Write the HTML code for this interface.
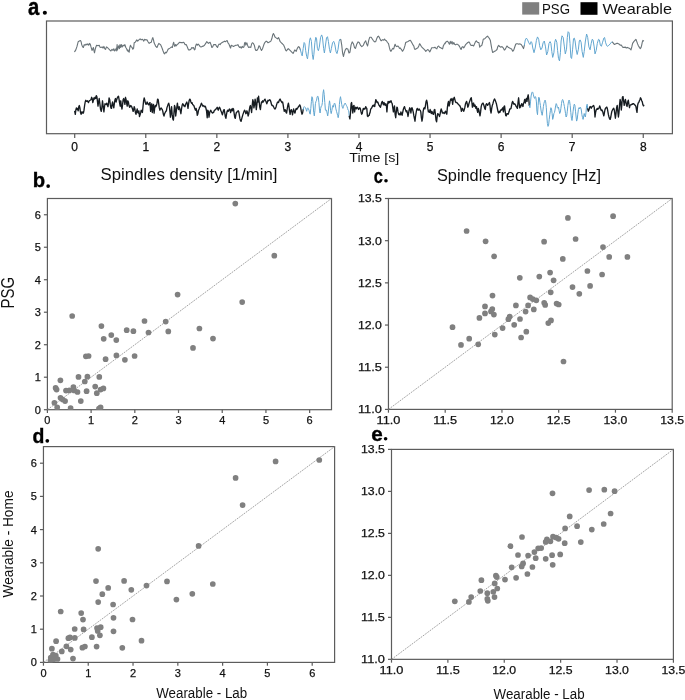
<!DOCTYPE html>
<html><head><meta charset="utf-8"><style>
html,body{margin:0;padding:0;background:#fff;width:685px;height:700px;overflow:hidden}
svg{display:block;font-family:'Liberation Sans', sans-serif;will-change:transform}
</style></head><body>
<svg width="685" height="700" viewBox="0 0 685 700">
<rect x="46.50" y="21.00" width="625.90" height="112.70" fill="none" stroke="#5c5c5c" stroke-width="1.2"/>
<line x1="74.70" y1="133.70" x2="74.70" y2="137.90" stroke="#5c5c5c" stroke-width="1.2"/>
<text x="74.70" y="150.60" font-size="12" text-anchor="middle" font-weight="normal" fill="#111" stroke="#111" stroke-width="0.25">0</text>
<line x1="145.77" y1="133.70" x2="145.77" y2="137.90" stroke="#5c5c5c" stroke-width="1.2"/>
<text x="145.77" y="150.60" font-size="12" text-anchor="middle" font-weight="normal" fill="#111" stroke="#111" stroke-width="0.25">1</text>
<line x1="216.84" y1="133.70" x2="216.84" y2="137.90" stroke="#5c5c5c" stroke-width="1.2"/>
<text x="216.84" y="150.60" font-size="12" text-anchor="middle" font-weight="normal" fill="#111" stroke="#111" stroke-width="0.25">2</text>
<line x1="287.91" y1="133.70" x2="287.91" y2="137.90" stroke="#5c5c5c" stroke-width="1.2"/>
<text x="287.91" y="150.60" font-size="12" text-anchor="middle" font-weight="normal" fill="#111" stroke="#111" stroke-width="0.25">3</text>
<line x1="358.98" y1="133.70" x2="358.98" y2="137.90" stroke="#5c5c5c" stroke-width="1.2"/>
<text x="358.98" y="150.60" font-size="12" text-anchor="middle" font-weight="normal" fill="#111" stroke="#111" stroke-width="0.25">4</text>
<line x1="430.05" y1="133.70" x2="430.05" y2="137.90" stroke="#5c5c5c" stroke-width="1.2"/>
<text x="430.05" y="150.60" font-size="12" text-anchor="middle" font-weight="normal" fill="#111" stroke="#111" stroke-width="0.25">5</text>
<line x1="501.12" y1="133.70" x2="501.12" y2="137.90" stroke="#5c5c5c" stroke-width="1.2"/>
<text x="501.12" y="150.60" font-size="12" text-anchor="middle" font-weight="normal" fill="#111" stroke="#111" stroke-width="0.25">6</text>
<line x1="572.19" y1="133.70" x2="572.19" y2="137.90" stroke="#5c5c5c" stroke-width="1.2"/>
<text x="572.19" y="150.60" font-size="12" text-anchor="middle" font-weight="normal" fill="#111" stroke="#111" stroke-width="0.25">7</text>
<line x1="643.26" y1="133.70" x2="643.26" y2="137.90" stroke="#5c5c5c" stroke-width="1.2"/>
<text x="643.26" y="150.60" font-size="12" text-anchor="middle" font-weight="normal" fill="#111" stroke="#111" stroke-width="0.25">8</text>
<text x="349.30" y="162.10" font-size="13.6" text-anchor="start" font-weight="normal" fill="#111" textLength="50" lengthAdjust="spacingAndGlyphs" >Time [s]</text>
<text font-size="20.0" font-weight="bold" fill="#000" stroke="#000" stroke-width="0.35" transform="matrix(1.0127,0,0,1.1956,27.91,14.67)">a</text>
<circle cx="44.85" cy="12.7" r="2.05" fill="#000"/>
<rect x="522.2" y="2.2" width="17" height="12.4" fill="#808080"/>
<text x="542.00" y="13.50" font-size="14.5" text-anchor="start" font-weight="normal" fill="#111" textLength="28" lengthAdjust="spacingAndGlyphs" >PSG</text>
<rect x="580.5" y="2.2" width="17" height="12.6" fill="#000"/>
<text x="602.50" y="13.60" font-size="15" text-anchor="start" font-weight="normal" fill="#111" textLength="69.5" lengthAdjust="spacingAndGlyphs" >Wearable</text>
<rect x="47.40" y="198.50" width="284.10" height="211.20" fill="none" stroke="#5c5c5c" stroke-width="1.2"/>
<line x1="47.40" y1="409.70" x2="47.40" y2="413.00" stroke="#5c5c5c" stroke-width="1.2"/>
<text x="47.40" y="424.20" font-size="11" text-anchor="middle" font-weight="normal" fill="#111" stroke="#111" stroke-width="0.25">0</text>
<line x1="43.90" y1="409.70" x2="47.40" y2="409.70" stroke="#5c5c5c" stroke-width="1.2"/>
<text x="40.80" y="413.60" font-size="11" text-anchor="end" font-weight="normal" fill="#111" stroke="#111" stroke-width="0.25">0</text>
<line x1="91.11" y1="409.70" x2="91.11" y2="413.00" stroke="#5c5c5c" stroke-width="1.2"/>
<text x="91.11" y="424.20" font-size="11" text-anchor="middle" font-weight="normal" fill="#111" stroke="#111" stroke-width="0.25">1</text>
<line x1="43.90" y1="377.21" x2="47.40" y2="377.21" stroke="#5c5c5c" stroke-width="1.2"/>
<text x="40.80" y="381.11" font-size="11" text-anchor="end" font-weight="normal" fill="#111" stroke="#111" stroke-width="0.25">1</text>
<line x1="134.82" y1="409.70" x2="134.82" y2="413.00" stroke="#5c5c5c" stroke-width="1.2"/>
<text x="134.82" y="424.20" font-size="11" text-anchor="middle" font-weight="normal" fill="#111" stroke="#111" stroke-width="0.25">2</text>
<line x1="43.90" y1="344.72" x2="47.40" y2="344.72" stroke="#5c5c5c" stroke-width="1.2"/>
<text x="40.80" y="348.62" font-size="11" text-anchor="end" font-weight="normal" fill="#111" stroke="#111" stroke-width="0.25">2</text>
<line x1="178.52" y1="409.70" x2="178.52" y2="413.00" stroke="#5c5c5c" stroke-width="1.2"/>
<text x="178.52" y="424.20" font-size="11" text-anchor="middle" font-weight="normal" fill="#111" stroke="#111" stroke-width="0.25">3</text>
<line x1="43.90" y1="312.22" x2="47.40" y2="312.22" stroke="#5c5c5c" stroke-width="1.2"/>
<text x="40.80" y="316.12" font-size="11" text-anchor="end" font-weight="normal" fill="#111" stroke="#111" stroke-width="0.25">3</text>
<line x1="222.23" y1="409.70" x2="222.23" y2="413.00" stroke="#5c5c5c" stroke-width="1.2"/>
<text x="222.23" y="424.20" font-size="11" text-anchor="middle" font-weight="normal" fill="#111" stroke="#111" stroke-width="0.25">4</text>
<line x1="43.90" y1="279.73" x2="47.40" y2="279.73" stroke="#5c5c5c" stroke-width="1.2"/>
<text x="40.80" y="283.63" font-size="11" text-anchor="end" font-weight="normal" fill="#111" stroke="#111" stroke-width="0.25">4</text>
<line x1="265.94" y1="409.70" x2="265.94" y2="413.00" stroke="#5c5c5c" stroke-width="1.2"/>
<text x="265.94" y="424.20" font-size="11" text-anchor="middle" font-weight="normal" fill="#111" stroke="#111" stroke-width="0.25">5</text>
<line x1="43.90" y1="247.24" x2="47.40" y2="247.24" stroke="#5c5c5c" stroke-width="1.2"/>
<text x="40.80" y="251.14" font-size="11" text-anchor="end" font-weight="normal" fill="#111" stroke="#111" stroke-width="0.25">5</text>
<line x1="309.65" y1="409.70" x2="309.65" y2="413.00" stroke="#5c5c5c" stroke-width="1.2"/>
<text x="309.65" y="424.20" font-size="11" text-anchor="middle" font-weight="normal" fill="#111" stroke="#111" stroke-width="0.25">6</text>
<line x1="43.90" y1="214.75" x2="47.40" y2="214.75" stroke="#5c5c5c" stroke-width="1.2"/>
<text x="40.80" y="218.65" font-size="11" text-anchor="end" font-weight="normal" fill="#111" stroke="#111" stroke-width="0.25">6</text>
<line x1="47.40" y1="409.70" x2="331.50" y2="198.50" stroke="#8c8c8c" stroke-width="0.8" stroke-dasharray="1.8,1.0"/>
<rect x="388.45" y="198.50" width="283.75" height="210.90" fill="none" stroke="#5c5c5c" stroke-width="1.2"/>
<line x1="388.45" y1="409.40" x2="388.45" y2="412.70" stroke="#5c5c5c" stroke-width="1.2"/>
<text x="388.45" y="423.90" font-size="11" text-anchor="middle" font-weight="normal" fill="#111" textLength="23.9" lengthAdjust="spacingAndGlyphs" stroke="#111" stroke-width="0.25">11.0</text>
<line x1="384.95" y1="409.40" x2="388.45" y2="409.40" stroke="#5c5c5c" stroke-width="1.2"/>
<text x="381.85" y="413.30" font-size="11" text-anchor="end" font-weight="normal" fill="#111" textLength="23.9" lengthAdjust="spacingAndGlyphs" stroke="#111" stroke-width="0.25">11.0</text>
<line x1="445.20" y1="409.40" x2="445.20" y2="412.70" stroke="#5c5c5c" stroke-width="1.2"/>
<text x="445.20" y="423.90" font-size="11" text-anchor="middle" font-weight="normal" fill="#111" textLength="23.9" lengthAdjust="spacingAndGlyphs" stroke="#111" stroke-width="0.25">11.5</text>
<line x1="384.95" y1="367.22" x2="388.45" y2="367.22" stroke="#5c5c5c" stroke-width="1.2"/>
<text x="381.85" y="371.12" font-size="11" text-anchor="end" font-weight="normal" fill="#111" textLength="23.9" lengthAdjust="spacingAndGlyphs" stroke="#111" stroke-width="0.25">11.5</text>
<line x1="501.95" y1="409.40" x2="501.95" y2="412.70" stroke="#5c5c5c" stroke-width="1.2"/>
<text x="501.95" y="423.90" font-size="11" text-anchor="middle" font-weight="normal" fill="#111" textLength="23.9" lengthAdjust="spacingAndGlyphs" stroke="#111" stroke-width="0.25">12.0</text>
<line x1="384.95" y1="325.04" x2="388.45" y2="325.04" stroke="#5c5c5c" stroke-width="1.2"/>
<text x="381.85" y="328.94" font-size="11" text-anchor="end" font-weight="normal" fill="#111" textLength="23.9" lengthAdjust="spacingAndGlyphs" stroke="#111" stroke-width="0.25">12.0</text>
<line x1="558.70" y1="409.40" x2="558.70" y2="412.70" stroke="#5c5c5c" stroke-width="1.2"/>
<text x="558.70" y="423.90" font-size="11" text-anchor="middle" font-weight="normal" fill="#111" textLength="23.9" lengthAdjust="spacingAndGlyphs" stroke="#111" stroke-width="0.25">12.5</text>
<line x1="384.95" y1="282.86" x2="388.45" y2="282.86" stroke="#5c5c5c" stroke-width="1.2"/>
<text x="381.85" y="286.76" font-size="11" text-anchor="end" font-weight="normal" fill="#111" textLength="23.9" lengthAdjust="spacingAndGlyphs" stroke="#111" stroke-width="0.25">12.5</text>
<line x1="615.45" y1="409.40" x2="615.45" y2="412.70" stroke="#5c5c5c" stroke-width="1.2"/>
<text x="615.45" y="423.90" font-size="11" text-anchor="middle" font-weight="normal" fill="#111" textLength="23.9" lengthAdjust="spacingAndGlyphs" stroke="#111" stroke-width="0.25">13.0</text>
<line x1="384.95" y1="240.68" x2="388.45" y2="240.68" stroke="#5c5c5c" stroke-width="1.2"/>
<text x="381.85" y="244.58" font-size="11" text-anchor="end" font-weight="normal" fill="#111" textLength="23.9" lengthAdjust="spacingAndGlyphs" stroke="#111" stroke-width="0.25">13.0</text>
<line x1="672.20" y1="409.40" x2="672.20" y2="412.70" stroke="#5c5c5c" stroke-width="1.2"/>
<text x="672.20" y="423.90" font-size="11" text-anchor="middle" font-weight="normal" fill="#111" textLength="23.9" lengthAdjust="spacingAndGlyphs" stroke="#111" stroke-width="0.25">13.5</text>
<line x1="384.95" y1="198.50" x2="388.45" y2="198.50" stroke="#5c5c5c" stroke-width="1.2"/>
<text x="381.85" y="202.40" font-size="11" text-anchor="end" font-weight="normal" fill="#111" textLength="23.9" lengthAdjust="spacingAndGlyphs" stroke="#111" stroke-width="0.25">13.5</text>
<line x1="388.45" y1="409.40" x2="672.20" y2="198.50" stroke="#8c8c8c" stroke-width="0.8" stroke-dasharray="1.8,1.0"/>
<rect x="43.45" y="446.60" width="291.15" height="215.80" fill="none" stroke="#5c5c5c" stroke-width="1.2"/>
<line x1="43.45" y1="662.40" x2="43.45" y2="665.70" stroke="#5c5c5c" stroke-width="1.2"/>
<text x="43.45" y="676.90" font-size="11" text-anchor="middle" font-weight="normal" fill="#111" stroke="#111" stroke-width="0.25">0</text>
<line x1="39.95" y1="662.40" x2="43.45" y2="662.40" stroke="#5c5c5c" stroke-width="1.2"/>
<text x="36.85" y="666.30" font-size="11" text-anchor="end" font-weight="normal" fill="#111" stroke="#111" stroke-width="0.25">0</text>
<line x1="88.24" y1="662.40" x2="88.24" y2="665.70" stroke="#5c5c5c" stroke-width="1.2"/>
<text x="88.24" y="676.90" font-size="11" text-anchor="middle" font-weight="normal" fill="#111" stroke="#111" stroke-width="0.25">1</text>
<line x1="39.95" y1="629.20" x2="43.45" y2="629.20" stroke="#5c5c5c" stroke-width="1.2"/>
<text x="36.85" y="633.10" font-size="11" text-anchor="end" font-weight="normal" fill="#111" stroke="#111" stroke-width="0.25">1</text>
<line x1="133.03" y1="662.40" x2="133.03" y2="665.70" stroke="#5c5c5c" stroke-width="1.2"/>
<text x="133.03" y="676.90" font-size="11" text-anchor="middle" font-weight="normal" fill="#111" stroke="#111" stroke-width="0.25">2</text>
<line x1="39.95" y1="596.00" x2="43.45" y2="596.00" stroke="#5c5c5c" stroke-width="1.2"/>
<text x="36.85" y="599.90" font-size="11" text-anchor="end" font-weight="normal" fill="#111" stroke="#111" stroke-width="0.25">2</text>
<line x1="177.83" y1="662.40" x2="177.83" y2="665.70" stroke="#5c5c5c" stroke-width="1.2"/>
<text x="177.83" y="676.90" font-size="11" text-anchor="middle" font-weight="normal" fill="#111" stroke="#111" stroke-width="0.25">3</text>
<line x1="39.95" y1="562.80" x2="43.45" y2="562.80" stroke="#5c5c5c" stroke-width="1.2"/>
<text x="36.85" y="566.70" font-size="11" text-anchor="end" font-weight="normal" fill="#111" stroke="#111" stroke-width="0.25">3</text>
<line x1="222.62" y1="662.40" x2="222.62" y2="665.70" stroke="#5c5c5c" stroke-width="1.2"/>
<text x="222.62" y="676.90" font-size="11" text-anchor="middle" font-weight="normal" fill="#111" stroke="#111" stroke-width="0.25">4</text>
<line x1="39.95" y1="529.60" x2="43.45" y2="529.60" stroke="#5c5c5c" stroke-width="1.2"/>
<text x="36.85" y="533.50" font-size="11" text-anchor="end" font-weight="normal" fill="#111" stroke="#111" stroke-width="0.25">4</text>
<line x1="267.41" y1="662.40" x2="267.41" y2="665.70" stroke="#5c5c5c" stroke-width="1.2"/>
<text x="267.41" y="676.90" font-size="11" text-anchor="middle" font-weight="normal" fill="#111" stroke="#111" stroke-width="0.25">5</text>
<line x1="39.95" y1="496.40" x2="43.45" y2="496.40" stroke="#5c5c5c" stroke-width="1.2"/>
<text x="36.85" y="500.30" font-size="11" text-anchor="end" font-weight="normal" fill="#111" stroke="#111" stroke-width="0.25">5</text>
<line x1="312.20" y1="662.40" x2="312.20" y2="665.70" stroke="#5c5c5c" stroke-width="1.2"/>
<text x="312.20" y="676.90" font-size="11" text-anchor="middle" font-weight="normal" fill="#111" stroke="#111" stroke-width="0.25">6</text>
<line x1="39.95" y1="463.20" x2="43.45" y2="463.20" stroke="#5c5c5c" stroke-width="1.2"/>
<text x="36.85" y="467.10" font-size="11" text-anchor="end" font-weight="normal" fill="#111" stroke="#111" stroke-width="0.25">6</text>
<line x1="43.45" y1="662.40" x2="334.60" y2="446.60" stroke="#8c8c8c" stroke-width="0.8" stroke-dasharray="1.8,1.0"/>
<rect x="391.50" y="449.40" width="281.90" height="209.95" fill="none" stroke="#5c5c5c" stroke-width="1.2"/>
<line x1="391.50" y1="659.35" x2="391.50" y2="662.65" stroke="#5c5c5c" stroke-width="1.2"/>
<text x="391.50" y="673.85" font-size="11" text-anchor="middle" font-weight="normal" fill="#111" textLength="23.9" lengthAdjust="spacingAndGlyphs" stroke="#111" stroke-width="0.25">11.0</text>
<line x1="388.00" y1="659.35" x2="391.50" y2="659.35" stroke="#5c5c5c" stroke-width="1.2"/>
<text x="384.90" y="663.25" font-size="11" text-anchor="end" font-weight="normal" fill="#111" textLength="23.9" lengthAdjust="spacingAndGlyphs" stroke="#111" stroke-width="0.25">11.0</text>
<line x1="447.88" y1="659.35" x2="447.88" y2="662.65" stroke="#5c5c5c" stroke-width="1.2"/>
<text x="447.88" y="673.85" font-size="11" text-anchor="middle" font-weight="normal" fill="#111" textLength="23.9" lengthAdjust="spacingAndGlyphs" stroke="#111" stroke-width="0.25">11.5</text>
<line x1="388.00" y1="617.36" x2="391.50" y2="617.36" stroke="#5c5c5c" stroke-width="1.2"/>
<text x="384.90" y="621.26" font-size="11" text-anchor="end" font-weight="normal" fill="#111" textLength="23.9" lengthAdjust="spacingAndGlyphs" stroke="#111" stroke-width="0.25">11.5</text>
<line x1="504.26" y1="659.35" x2="504.26" y2="662.65" stroke="#5c5c5c" stroke-width="1.2"/>
<text x="504.26" y="673.85" font-size="11" text-anchor="middle" font-weight="normal" fill="#111" textLength="23.9" lengthAdjust="spacingAndGlyphs" stroke="#111" stroke-width="0.25">12.0</text>
<line x1="388.00" y1="575.37" x2="391.50" y2="575.37" stroke="#5c5c5c" stroke-width="1.2"/>
<text x="384.90" y="579.27" font-size="11" text-anchor="end" font-weight="normal" fill="#111" textLength="23.9" lengthAdjust="spacingAndGlyphs" stroke="#111" stroke-width="0.25">12.0</text>
<line x1="560.64" y1="659.35" x2="560.64" y2="662.65" stroke="#5c5c5c" stroke-width="1.2"/>
<text x="560.64" y="673.85" font-size="11" text-anchor="middle" font-weight="normal" fill="#111" textLength="23.9" lengthAdjust="spacingAndGlyphs" stroke="#111" stroke-width="0.25">12.5</text>
<line x1="388.00" y1="533.38" x2="391.50" y2="533.38" stroke="#5c5c5c" stroke-width="1.2"/>
<text x="384.90" y="537.28" font-size="11" text-anchor="end" font-weight="normal" fill="#111" textLength="23.9" lengthAdjust="spacingAndGlyphs" stroke="#111" stroke-width="0.25">12.5</text>
<line x1="617.02" y1="659.35" x2="617.02" y2="662.65" stroke="#5c5c5c" stroke-width="1.2"/>
<text x="617.02" y="673.85" font-size="11" text-anchor="middle" font-weight="normal" fill="#111" textLength="23.9" lengthAdjust="spacingAndGlyphs" stroke="#111" stroke-width="0.25">13.0</text>
<line x1="388.00" y1="491.39" x2="391.50" y2="491.39" stroke="#5c5c5c" stroke-width="1.2"/>
<text x="384.90" y="495.29" font-size="11" text-anchor="end" font-weight="normal" fill="#111" textLength="23.9" lengthAdjust="spacingAndGlyphs" stroke="#111" stroke-width="0.25">13.0</text>
<line x1="673.40" y1="659.35" x2="673.40" y2="662.65" stroke="#5c5c5c" stroke-width="1.2"/>
<text x="673.40" y="673.85" font-size="11" text-anchor="middle" font-weight="normal" fill="#111" textLength="23.9" lengthAdjust="spacingAndGlyphs" stroke="#111" stroke-width="0.25">13.5</text>
<line x1="388.00" y1="449.40" x2="391.50" y2="449.40" stroke="#5c5c5c" stroke-width="1.2"/>
<text x="384.90" y="453.30" font-size="11" text-anchor="end" font-weight="normal" fill="#111" textLength="23.9" lengthAdjust="spacingAndGlyphs" stroke="#111" stroke-width="0.25">13.5</text>
<line x1="391.50" y1="659.35" x2="673.40" y2="449.40" stroke="#8c8c8c" stroke-width="0.8" stroke-dasharray="1.8,1.0"/>
<text x="100.50" y="180.10" font-size="16" text-anchor="start" font-weight="normal" fill="#111" textLength="177" lengthAdjust="spacingAndGlyphs" >Spindles density [1/min]</text>
<text x="437.00" y="181.20" font-size="16" text-anchor="start" font-weight="normal" fill="#111" textLength="164" lengthAdjust="spacingAndGlyphs" >Spindle frequency [Hz]</text>
<text font-size="20.0" font-weight="bold" fill="#000" stroke="#000" stroke-width="0.35" transform="matrix(1.0121,0,0,1.0349,32.67,187.40)">b</text>
<circle cx="48.15" cy="186.1" r="1.85" fill="#000"/>
<text font-size="20.0" font-weight="bold" fill="#000" stroke="#000" stroke-width="0.35" transform="matrix(0.8200,0,0,1.0313,373.86,182.70)">c</text>
<circle cx="386.0" cy="180.7" r="1.8" fill="#000"/>
<text font-size="20.0" font-weight="bold" fill="#000" stroke="#000" stroke-width="0.35" transform="matrix(0.9724,0,0,1.0553,32.40,442.89)">d</text>
<circle cx="47.3" cy="440.8" r="1.85" fill="#000"/>
<text font-size="20.0" font-weight="bold" fill="#000" stroke="#000" stroke-width="0.35" transform="matrix(1.0354,0,0,1.0496,371.19,440.60)">e</text>
<circle cx="385.6" cy="438.8" r="1.8" fill="#000"/>
<text x="493.60" y="698.60" font-size="13.8" text-anchor="start" font-weight="normal" fill="#111" textLength="91" lengthAdjust="spacingAndGlyphs" >Wearable - Lab</text>
<text x="156.20" y="697.60" font-size="13.8" text-anchor="start" font-weight="normal" fill="#111" textLength="91" lengthAdjust="spacingAndGlyphs" >Wearable - Lab</text>
<text transform="translate(14.3,308.5) rotate(-90)" font-size="19" fill="#111" textLength="31.5" lengthAdjust="spacingAndGlyphs">PSG</text>
<text transform="translate(13.2,597.5) rotate(-90)" font-size="14" fill="#111" textLength="107" lengthAdjust="spacingAndGlyphs">Wearable - Home</text>
<clipPath id="cp0"><rect x="47.40" y="198.50" width="284.10" height="211.20"/></clipPath>
<g clip-path="url(#cp0)" fill="#808080"><circle cx="235.3" cy="203.6" r="2.85"/><circle cx="274.3" cy="255.7" r="2.85"/><circle cx="177.6" cy="294.6" r="2.85"/><circle cx="242.2" cy="302.1" r="2.85"/><circle cx="165.7" cy="321.6" r="2.85"/><circle cx="168.3" cy="331.4" r="2.85"/><circle cx="199.4" cy="328.5" r="2.85"/><circle cx="213.0" cy="338.6" r="2.85"/><circle cx="193.0" cy="347.9" r="2.85"/><circle cx="72.2" cy="316.0" r="2.85"/><circle cx="101.4" cy="326.1" r="2.85"/><circle cx="111.3" cy="335.1" r="2.85"/><circle cx="103.7" cy="338.8" r="2.85"/><circle cx="116.3" cy="340.1" r="2.85"/><circle cx="126.7" cy="330.2" r="2.85"/><circle cx="133.4" cy="331.2" r="2.85"/><circle cx="144.5" cy="321.0" r="2.85"/><circle cx="148.5" cy="332.5" r="2.85"/><circle cx="85.9" cy="356.3" r="2.85"/><circle cx="88.6" cy="356.0" r="2.85"/><circle cx="105.6" cy="359.2" r="2.85"/><circle cx="116.4" cy="355.4" r="2.85"/><circle cx="124.9" cy="359.8" r="2.85"/><circle cx="134.6" cy="356.0" r="2.85"/><circle cx="78.5" cy="376.9" r="2.85"/><circle cx="87.4" cy="376.7" r="2.85"/><circle cx="99.3" cy="376.9" r="2.85"/><circle cx="60.4" cy="380.3" r="2.85"/><circle cx="84.8" cy="381.5" r="2.85"/><circle cx="55.6" cy="387.9" r="2.85"/><circle cx="56.6" cy="389.6" r="2.85"/><circle cx="66.0" cy="390.6" r="2.85"/><circle cx="69.3" cy="390.4" r="2.85"/><circle cx="73.4" cy="387.1" r="2.85"/><circle cx="74.2" cy="390.4" r="2.85"/><circle cx="77.5" cy="392.0" r="2.85"/><circle cx="86.6" cy="391.2" r="2.85"/><circle cx="95.2" cy="386.6" r="2.85"/><circle cx="100.6" cy="389.6" r="2.85"/><circle cx="103.4" cy="388.4" r="2.85"/><circle cx="96.8" cy="393.2" r="2.85"/><circle cx="60.5" cy="397.8" r="2.85"/><circle cx="62.7" cy="399.5" r="2.85"/><circle cx="65.1" cy="401.1" r="2.85"/><circle cx="80.8" cy="401.1" r="2.85"/><circle cx="54.4" cy="402.8" r="2.85"/><circle cx="57.2" cy="407.4" r="2.85"/><circle cx="70.6" cy="408.0" r="2.85"/><circle cx="100.6" cy="407.4" r="2.85"/><circle cx="99.0" cy="408.6" r="2.85"/></g>
<clipPath id="cp1"><rect x="388.45" y="198.50" width="283.75" height="210.90"/></clipPath>
<g clip-path="url(#cp1)" fill="#808080"><circle cx="466.6" cy="231.0" r="2.85"/><circle cx="485.6" cy="241.3" r="2.85"/><circle cx="494.1" cy="256.3" r="2.85"/><circle cx="519.8" cy="277.8" r="2.85"/><circle cx="492.5" cy="295.6" r="2.85"/><circle cx="567.9" cy="217.9" r="2.85"/><circle cx="613.1" cy="216.2" r="2.85"/><circle cx="544.1" cy="241.7" r="2.85"/><circle cx="575.6" cy="239.0" r="2.85"/><circle cx="603.0" cy="247.1" r="2.85"/><circle cx="609.2" cy="256.9" r="2.85"/><circle cx="627.4" cy="256.9" r="2.85"/><circle cx="562.8" cy="258.9" r="2.85"/><circle cx="550.1" cy="272.6" r="2.85"/><circle cx="539.3" cy="276.6" r="2.85"/><circle cx="553.6" cy="280.3" r="2.85"/><circle cx="587.4" cy="271.0" r="2.85"/><circle cx="602.1" cy="274.5" r="2.85"/><circle cx="572.5" cy="287.1" r="2.85"/><circle cx="590.1" cy="285.9" r="2.85"/><circle cx="550.7" cy="292.3" r="2.85"/><circle cx="579.3" cy="293.8" r="2.85"/><circle cx="485.0" cy="306.4" r="2.85"/><circle cx="492.3" cy="309.0" r="2.85"/><circle cx="491.0" cy="311.4" r="2.85"/><circle cx="485.0" cy="313.4" r="2.85"/><circle cx="493.9" cy="314.6" r="2.85"/><circle cx="479.4" cy="317.9" r="2.85"/><circle cx="515.9" cy="305.4" r="2.85"/><circle cx="528.1" cy="305.4" r="2.85"/><circle cx="525.6" cy="311.6" r="2.85"/><circle cx="509.7" cy="316.5" r="2.85"/><circle cx="508.4" cy="319.2" r="2.85"/><circle cx="520.0" cy="319.0" r="2.85"/><circle cx="514.2" cy="324.8" r="2.85"/><circle cx="502.6" cy="328.1" r="2.85"/><circle cx="494.8" cy="334.6" r="2.85"/><circle cx="526.3" cy="331.7" r="2.85"/><circle cx="521.1" cy="337.5" r="2.85"/><circle cx="452.5" cy="327.2" r="2.85"/><circle cx="469.2" cy="338.7" r="2.85"/><circle cx="461.0" cy="344.9" r="2.85"/><circle cx="478.2" cy="344.3" r="2.85"/><circle cx="530.1" cy="297.4" r="2.85"/><circle cx="532.8" cy="299.1" r="2.85"/><circle cx="536.3" cy="300.3" r="2.85"/><circle cx="544.2" cy="302.8" r="2.85"/><circle cx="545.2" cy="304.9" r="2.85"/><circle cx="556.6" cy="303.6" r="2.85"/><circle cx="558.7" cy="304.5" r="2.85"/><circle cx="533.8" cy="309.4" r="2.85"/><circle cx="551.0" cy="320.4" r="2.85"/><circle cx="548.3" cy="323.1" r="2.85"/><circle cx="563.5" cy="361.5" r="2.85"/></g>
<clipPath id="cp2"><rect x="43.45" y="446.60" width="291.15" height="215.80"/></clipPath>
<g clip-path="url(#cp2)" fill="#808080"><circle cx="275.6" cy="461.4" r="2.85"/><circle cx="319.3" cy="460.0" r="2.85"/><circle cx="235.6" cy="477.9" r="2.85"/><circle cx="242.6" cy="505.1" r="2.85"/><circle cx="198.6" cy="545.9" r="2.85"/><circle cx="124.1" cy="580.9" r="2.85"/><circle cx="108.2" cy="587.9" r="2.85"/><circle cx="102.3" cy="594.2" r="2.85"/><circle cx="131.3" cy="589.8" r="2.85"/><circle cx="146.5" cy="585.6" r="2.85"/><circle cx="167.0" cy="581.4" r="2.85"/><circle cx="212.8" cy="584.0" r="2.85"/><circle cx="192.3" cy="593.8" r="2.85"/><circle cx="176.4" cy="599.6" r="2.85"/><circle cx="113.1" cy="604.5" r="2.85"/><circle cx="113.5" cy="617.8" r="2.85"/><circle cx="132.5" cy="619.5" r="2.85"/><circle cx="98.2" cy="548.8" r="2.85"/><circle cx="96.0" cy="581.1" r="2.85"/><circle cx="98.2" cy="602.1" r="2.85"/><circle cx="60.7" cy="611.5" r="2.85"/><circle cx="81.2" cy="613.1" r="2.85"/><circle cx="83.0" cy="619.6" r="2.85"/><circle cx="74.7" cy="629.0" r="2.85"/><circle cx="83.6" cy="629.4" r="2.85"/><circle cx="97.0" cy="628.0" r="2.85"/><circle cx="100.7" cy="627.2" r="2.85"/><circle cx="97.7" cy="630.9" r="2.85"/><circle cx="99.9" cy="635.3" r="2.85"/><circle cx="113.5" cy="631.3" r="2.85"/><circle cx="68.4" cy="638.2" r="2.85"/><circle cx="70.0" cy="637.4" r="2.85"/><circle cx="74.8" cy="637.9" r="2.85"/><circle cx="91.9" cy="637.2" r="2.85"/><circle cx="56.1" cy="641.2" r="2.85"/><circle cx="141.5" cy="640.7" r="2.85"/><circle cx="66.4" cy="646.3" r="2.85"/><circle cx="70.7" cy="649.6" r="2.85"/><circle cx="61.8" cy="651.4" r="2.85"/><circle cx="82.4" cy="647.7" r="2.85"/><circle cx="84.9" cy="646.5" r="2.85"/><circle cx="96.6" cy="646.6" r="2.85"/><circle cx="122.3" cy="647.8" r="2.85"/><circle cx="51.9" cy="648.7" r="2.85"/><circle cx="73.0" cy="658.6" r="2.85"/><circle cx="50.8" cy="657.5" r="2.85"/><circle cx="53.0" cy="654.5" r="2.85"/><circle cx="55.8" cy="655.5" r="2.85"/><circle cx="57.5" cy="659.0" r="2.85"/><circle cx="50.5" cy="660.5" r="2.85"/><circle cx="53.5" cy="659.5" r="2.85"/></g>
<clipPath id="cp3"><rect x="391.50" y="449.40" width="281.90" height="209.95"/></clipPath>
<g clip-path="url(#cp3)" fill="#808080"><circle cx="552.5" cy="493.3" r="2.85"/><circle cx="589.1" cy="490.1" r="2.85"/><circle cx="604.3" cy="489.7" r="2.85"/><circle cx="614.6" cy="491.2" r="2.85"/><circle cx="569.7" cy="516.4" r="2.85"/><circle cx="610.6" cy="513.5" r="2.85"/><circle cx="565.1" cy="528.4" r="2.85"/><circle cx="577.1" cy="526.2" r="2.85"/><circle cx="603.7" cy="524.0" r="2.85"/><circle cx="591.8" cy="529.6" r="2.85"/><circle cx="553.0" cy="536.7" r="2.85"/><circle cx="556.1" cy="537.6" r="2.85"/><circle cx="558.6" cy="538.8" r="2.85"/><circle cx="546.9" cy="539.4" r="2.85"/><circle cx="550.4" cy="541.3" r="2.85"/><circle cx="545.7" cy="541.9" r="2.85"/><circle cx="564.7" cy="543.2" r="2.85"/><circle cx="580.8" cy="542.1" r="2.85"/><circle cx="538.2" cy="548.3" r="2.85"/><circle cx="541.2" cy="548.1" r="2.85"/><circle cx="534.4" cy="552.1" r="2.85"/><circle cx="552.1" cy="555.2" r="2.85"/><circle cx="560.2" cy="554.4" r="2.85"/><circle cx="535.7" cy="558.2" r="2.85"/><circle cx="545.7" cy="558.8" r="2.85"/><circle cx="522.0" cy="537.0" r="2.85"/><circle cx="510.4" cy="546.2" r="2.85"/><circle cx="518.0" cy="555.0" r="2.85"/><circle cx="528.1" cy="555.6" r="2.85"/><circle cx="552.7" cy="564.8" r="2.85"/><circle cx="523.1" cy="563.4" r="2.85"/><circle cx="521.7" cy="566.4" r="2.85"/><circle cx="532.4" cy="567.0" r="2.85"/><circle cx="511.7" cy="567.3" r="2.85"/><circle cx="527.4" cy="574.0" r="2.85"/><circle cx="516.1" cy="577.8" r="2.85"/><circle cx="505.0" cy="579.6" r="2.85"/><circle cx="495.9" cy="575.7" r="2.85"/><circle cx="496.8" cy="577.1" r="2.85"/><circle cx="481.4" cy="580.2" r="2.85"/><circle cx="494.7" cy="583.4" r="2.85"/><circle cx="497.3" cy="588.5" r="2.85"/><circle cx="493.3" cy="591.8" r="2.85"/><circle cx="480.3" cy="591.0" r="2.85"/><circle cx="487.3" cy="593.2" r="2.85"/><circle cx="494.5" cy="597.1" r="2.85"/><circle cx="487.3" cy="598.9" r="2.85"/><circle cx="487.8" cy="600.8" r="2.85"/><circle cx="471.2" cy="597.1" r="2.85"/><circle cx="468.9" cy="601.9" r="2.85"/><circle cx="454.8" cy="601.3" r="2.85"/></g>
<polyline points="74.7,51.6 75.8,49.9 77.0,46.4 78.2,41.7 79.3,41.1 80.5,40.5 81.1,41.7 81.7,44.6 82.6,46.9 83.4,47.5 84.2,44.6 85.2,45.2 86.1,44.0 86.9,44.9 87.8,43.8 88.7,45.2 89.6,43.4 90.4,44.6 91.0,46.9 92.0,50.4 92.8,48.7 93.4,47.5 93.9,50.4 94.5,52.8 95.1,49.9 95.7,47.5 96.6,45.2 98.0,45.8 99.2,45.2 100.1,47.3 100.9,47.5 102.1,46.9 103.1,48.1 103.9,46.4 104.8,48.7 105.6,49.3 106.4,46.9 107.4,47.5 108.5,48.7 109.7,49.9 110.9,51.0 112.0,49.3 113.0,50.4 113.8,48.7 114.7,51.0 115.5,49.9 116.4,48.1 116.7,51.0 117.1,44.6 117.5,49.9 118.1,47.5 118.8,45.8 119.4,48.7 120.0,44.6 120.8,47.5 121.4,44.6 122.2,46.9 123.1,45.2 124.0,45.8 124.9,44.6 125.8,47.5 126.6,48.7 127.5,51.0 128.0,49.9 128.6,51.6 129.2,52.2 129.8,47.5 130.5,45.2 131.3,46.9 132.1,47.5 132.8,49.3 133.6,48.1 134.2,42.8 135.2,42.3 136.0,41.1 136.8,39.9 137.7,41.1 138.9,39.9 140.1,38.8 141.2,39.9 142.2,39.3 143.0,39.9 143.8,41.1 144.7,39.3 145.9,39.9 147.1,39.9 148.0,41.7 149.2,43.4 150.0,42.8 151.2,42.3 152.1,39.3 152.8,37.6 153.5,39.9 154.1,42.8 154.9,44.6 155.8,46.4 157.0,47.5 157.9,45.2 158.8,43.4 159.6,44.0 160.5,44.6 161.4,46.4 162.3,48.7 163.1,51.0 164.0,53.4 164.6,53.9 165.4,52.2 166.4,52.8 167.3,51.0 168.1,49.3 168.9,48.7 169.9,48.1 170.8,47.5 171.6,46.9 172.4,47.5 173.1,44.0 173.7,42.3 174.3,45.2 174.9,46.4 175.5,44.6 176.3,45.8 177.1,44.6 178.0,44.0 179.0,42.8 179.8,42.3 180.6,42.6 181.5,42.6 182.5,42.8 183.3,42.3 184.1,42.8 185.0,44.6 186.2,44.6 187.1,46.4 188.0,48.7 188.5,49.9 189.7,49.9 190.9,49.3 191.8,47.5 192.6,48.1 193.4,47.5 194.4,49.9 195.0,49.3 195.5,46.4 196.4,44.0 197.3,45.2 198.1,44.0 199.1,45.2 200.0,46.4 201.0,46.9 202.2,46.4 203.4,46.1 204.5,45.2 205.7,43.4 206.6,41.7 207.5,42.3 208.4,43.4 209.2,42.8 210.1,42.3 211.0,44.6 211.9,47.5 212.7,46.9 213.6,44.6 214.8,44.6 215.6,44.6 216.6,46.4 217.5,47.5 218.3,45.2 219.1,44.0 220.1,44.6 220.9,43.4 221.8,42.8 222.6,42.3 223.6,41.7 224.4,41.1 225.3,41.7 226.1,41.1 227.1,40.5 228.0,42.8 228.9,44.0 230.0,46.9 230.6,48.1 231.2,45.2 232.3,45.8 233.5,46.4 234.7,45.8 235.8,45.2 237.0,45.2 237.9,44.6 238.8,46.4 239.6,47.5 240.5,46.9 241.3,48.1 242.3,46.4 243.1,47.5 244.0,46.9 244.6,42.8 245.2,42.3 245.8,45.2 246.4,43.4 246.9,42.8 247.5,45.2 248.1,46.4 248.7,47.5 249.9,46.9 250.8,47.5 251.6,44.0 252.4,42.8 253.4,43.4 254.3,45.2 255.1,48.7 255.9,50.4 256.9,50.4 258.0,48.7 259.0,45.8 259.8,46.4 260.6,48.7 261.5,50.4 262.5,48.7 263.3,46.4 264.1,44.0 265.0,42.3 266.2,41.1 267.1,41.7 268.0,42.8 268.9,42.3 269.9,41.7 270.9,41.1 271.8,38.8 272.6,35.3 273.4,33.5 274.1,34.7 275.0,37.0 275.8,37.6 276.7,38.2 277.6,38.8 278.5,37.6 279.3,39.3 280.2,41.7 281.4,42.8 282.6,44.0 283.7,45.2 284.7,47.5 285.5,49.9 286.3,51.0 287.2,49.9 288.2,48.7 289.0,49.3 290.1,50.4 291.3,51.6 292.5,52.8 293.1,53.4 294.0,51.6 294.8,49.9 295.0,50.1 296.2,51.3 297.3,48.4 298.5,46.6 299.4,47.2 300.3,49.5" fill="none" stroke="#6a7479" stroke-width="1.1" stroke-linejoin="round" stroke-linecap="round"/>
<polyline points="300.3,49.5 301.4,53.6 302.2,55.9 303.2,48.4 304.1,42.5 304.9,43.7 305.7,50.7 306.7,56.5 307.5,58.9 308.4,51.9 309.6,40.2 310.4,37.8 311.4,41.4 312.3,54.2 313.2,59.5 313.9,54.2 314.9,42.5 315.8,37.3 316.6,39.0 317.4,48.4 318.4,50.7 319.3,47.2 320.5,37.8 321.6,34.9 322.4,36.7 323.6,48.4 324.4,53.0 325.4,46.0 326.5,37.8 327.5,36.7 328.4,41.4 329.5,49.5 330.4,53.0 331.4,48.4 332.6,42.5 333.8,41.4 334.9,44.9 336.1,51.9 337.0,53.6 338.0,49.5 339.1,41.4 340.0,39.0 340.8,39.6" fill="none" stroke="#62a6d0" stroke-width="1.0" stroke-linejoin="round" stroke-linecap="round"/>
<polyline points="340.8,39.6 341.7,44.9 342.6,53.0 343.5,56.5 344.3,53.0 345.2,50.1 346.4,48.4 347.8,48.9 349.0,53.0 349.9,52.4 351.1,44.9 352.2,41.9 353.4,43.7 354.6,47.8 355.5,48.4 356.7,44.3 358.1,41.9 359.2,42.5 360.6,45.4 361.8,46.6 363.3,45.4 364.5,42.5 365.7,40.8 366.8,44.3 367.6,46.0 368.8,40.2 369.7,37.3 370.0,37.3 371.2,37.3 372.3,39.0 373.5,40.8 374.7,41.9 375.8,41.4 376.8,38.4 377.6,36.7 378.4,36.1 379.3,37.3 380.3,39.6 381.1,40.8 381.9,40.2 382.8,39.6 383.8,40.2 384.6,39.0 385.4,40.2 386.4,40.8 387.5,42.5 388.5,43.7 389.3,47.2 390.1,50.1 391.0,51.3 392.0,49.5 392.8,48.4 393.7,48.9 394.5,46.0 395.1,44.3 395.9,46.0 396.9,46.6 397.8,46.0 398.6,46.6 399.4,48.4 400.1,47.8 400.9,48.9 401.5,49.5 402.4,51.3 403.3,50.1 404.1,48.4 405.0,45.4 405.7,42.5 406.8,41.9 408.0,41.4 409.1,40.8 410.3,40.2 411.1,41.4 412.0,43.1 413.0,44.9 413.8,46.0 414.4,48.4 415.0,49.5 415.8,48.9 416.7,48.4 417.9,47.8 418.8,46.0 419.6,43.7 420.5,44.9 421.4,46.6 422.6,47.8 423.7,48.9 424.9,50.1 425.8,51.3 427.0,50.1 427.9,49.5 429.0,50.7 429.8,51.9 430.7,50.1 431.7,47.8 432.8,47.8 434.0,47.8 434.9,47.2 436.0,48.4 436.8,48.9 437.7,46.6 438.7,46.0 439.5,47.2 440.7,47.8 441.8,48.4 442.6,48.9 443.3,46.0 444.2,44.3 445.0,43.1 445.0,43.7 445.9,41.9 446.8,41.4 447.6,41.4 448.5,42.5 449.4,44.3 450.3,41.4 451.1,43.7 452.0,41.4 452.9,44.3 453.8,42.5 454.6,44.3 455.5,44.9 456.4,44.3 457.6,44.3 458.8,45.4 459.6,46.6 460.4,48.4 461.1,49.5 461.9,47.2 462.8,46.6 463.7,47.8 464.6,46.6 465.4,44.9 466.6,43.7 467.8,42.5 468.9,41.9 469.8,43.1 470.5,44.9 471.6,45.4 472.8,45.4 473.6,46.0 474.4,44.3 475.4,41.9 476.3,40.8 477.1,41.9 477.9,42.5 478.9,42.5 479.7,47.2 480.6,46.0 481.8,45.4 482.6,42.5 483.3,39.0 484.5,39.0 485.6,37.8 486.8,36.7 487.6,36.1 488.4,37.3 489.4,38.4 490.3,40.2 491.1,44.9 491.7,48.4 492.6,52.4 493.5,51.9 494.6,51.3 495.8,50.7 497.0,49.5 497.8,46.6 498.7,45.4 499.7,46.6 500.8,47.2 502.0,46.6 503.2,47.8 504.3,50.1 505.1,49.5 506.0,47.8 506.9,46.0 508.1,47.2 509.2,47.8 510.4,48.4 511.6,48.9 512.7,51.3 513.7,50.1 514.5,47.8 515.7,44.3 516.5,43.7 517.6,43.7 518.8,44.3 520.0,43.7 520.0,43.9 521.2,44.5 522.3,46.3 523.5,48.6 524.4,45.1" fill="none" stroke="#6a7479" stroke-width="1.1" stroke-linejoin="round" stroke-linecap="round"/>
<polyline points="524.4,45.1 525.3,39.9 526.4,38.1 527.6,39.9 528.8,42.8 529.9,44.5 531.1,41.6 531.9,42.8 532.8,48.0 534.0,52.7 535.2,48.0 536.4,40.4 537.5,36.9 538.7,39.3 539.6,45.7 540.8,49.8 542.0,48.0 543.1,42.8 544.3,41.0 545.5,46.9 546.6,55.0 547.8,51.5 549.0,43.4 550.1,41.6 550.9,43.4 551.8,51.5 552.7,57.4 553.9,52.7 554.8,42.2 555.6,39.3 556.8,42.2 557.6,50.4 558.5,58.5 559.5,60.9 560.4,52.7 561.1,41.0 562.0,35.8 563.2,37.5 564.4,46.9 565.3,53.9 566.5,49.2 567.3,37.5 568.1,31.7 569.1,32.8 570.0,43.4 570.9,57.4 571.6,58.5 572.6,49.2 573.5,38.7 574.3,38.1 575.1,41.0 576.1,49.2 577.2,54.5 578.4,49.2 579.3,41.0 580.1,39.9 581.1,42.2 582.1,51.5 583.3,57.4 584.2,51.5 585.4,41.0 586.6,34.0 587.7,37.5 588.9,46.9 590.1,49.8 591.2,43.4 592.2,39.3 593.0,39.9 594.2,46.9 595.0,53.9 596.2,50.4 597.3,43.4 598.5,39.3 599.4,39.9 600.3,45.1 601.4,46.3 602.6,42.2 603.8,38.1 604.6,37.5 605.5,42.2 606.7,45.7 607.8,46.3 609.0,45.1 610.2,43.9 611.4,42.2 612.5,42.2" fill="none" stroke="#62a6d0" stroke-width="1.0" stroke-linejoin="round" stroke-linecap="round"/>
<polyline points="612.5,42.2 613.5,43.4 614.3,44.5 615.4,43.9 616.6,43.4 617.8,43.4 618.9,43.9 620.1,45.1 621.3,45.1 622.1,46.3 623.0,47.4 624.2,47.4 625.4,47.1 626.3,48.0 627.5,47.4 628.6,48.0 629.8,48.6 631.0,49.8 631.8,46.9 632.6,43.4 633.8,41.6 634.9,40.4 635.9,39.3 636.8,41.6 637.6,43.9 638.4,45.7 639.4,47.4 640.3,48.6 641.1,47.4 641.7,45.1 642.3,42.2 642.9,40.4 643.6,41.0" fill="none" stroke="#6a7479" stroke-width="1.1" stroke-linejoin="round" stroke-linecap="round"/>
<polyline points="74.7,111.4 75.3,114.3 75.8,110.2 76.4,107.9 77.0,109.6 77.6,108.4 78.2,110.8 78.8,106.7 79.3,105.5 79.9,107.9 80.5,112.5 81.1,114.3 81.7,111.9 82.3,113.1 82.8,111.9 83.4,113.1 84.0,110.2 84.6,105.5 85.2,102.0 85.8,100.3 86.6,101.4 87.5,100.8 88.5,102.6 89.3,100.8 90.1,100.3 91.0,99.7 91.6,97.3 92.2,98.5 92.8,102.6 93.4,100.3 93.9,97.9 94.5,99.1 95.1,97.3 95.7,98.5 96.3,95.6 96.9,96.8 97.4,100.8 98.0,106.1 98.6,102.0 99.2,98.5 99.8,103.2 100.6,109.6 101.3,111.4 101.9,107.3 102.5,100.8 103.1,105.5 103.9,111.9 104.5,106.7 105.0,103.8 106.0,104.4 106.8,103.2 107.4,105.5 108.0,106.7 108.5,103.2 109.1,97.9 109.7,99.7 110.3,104.4 110.9,107.9 111.5,108.4 112.0,104.4 112.6,102.0 113.2,105.5 113.8,107.9 114.4,103.2 115.0,99.7 115.5,98.5 116.1,102.0 116.7,99.7 117.3,97.9 117.9,96.8 118.5,96.2 119.1,99.7 119.6,103.2 120.2,106.1 120.8,100.8 121.4,106.7 122.0,109.0 122.6,104.4 123.1,99.7 123.7,98.5 124.3,100.8 124.9,104.4 125.5,97.3 126.1,99.7 126.6,103.2 127.2,106.1 127.8,100.8 128.4,102.0 129.0,105.5 129.6,107.3 130.1,106.7 130.7,105.5 131.7,106.7 132.5,109.0 133.1,111.4 133.6,110.2 134.2,106.7 134.8,108.4 135.4,112.5 136.0,114.3 136.6,111.4 137.2,109.0 137.7,112.5 138.3,113.1 138.9,110.8 139.5,116.6 140.1,114.9 140.7,112.5 141.2,110.2 141.8,111.4 142.4,112.5 143.0,106.7 143.6,100.8 144.2,97.9 144.7,99.7 145.3,102.6 145.9,104.4 146.5,103.8 147.1,102.0 147.7,103.2 148.2,104.4 148.8,104.9 149.4,103.2 150.0,102.6 150.6,111.4 151.2,105.5 151.8,103.8 152.3,112.5 152.9,106.7 153.5,104.4 154.1,113.1 154.7,107.9 155.3,105.5 155.8,106.7 156.4,105.5 157.0,103.2 157.6,99.1 158.2,99.7 158.8,104.4 159.3,107.9 159.9,110.2 160.5,108.4 161.1,107.9 161.7,109.0 162.3,109.6 162.8,111.4 163.4,114.3 164.0,116.0 164.6,113.7 165.2,112.5 165.8,111.4 166.4,110.8 166.9,107.9 167.5,106.1 168.1,104.4 168.7,103.2 169.3,105.5 169.9,111.4 170.4,117.2 171.0,112.5 171.6,106.7 172.2,114.9 172.8,118.9 173.4,120.1 173.9,113.7 174.5,105.5 175.1,107.3 175.7,116.0 176.3,111.4 176.9,106.7 177.4,103.2 178.0,107.9 178.6,109.6 179.2,106.7 179.8,108.4 180.4,111.4 180.9,113.7 181.5,109.0 182.1,105.5 182.7,103.8 183.3,104.4 183.9,106.1 184.5,105.5 185.0,106.7 185.6,104.4 186.2,103.2 186.8,102.0 187.4,104.4 188.0,108.4 188.5,104.4 189.1,100.8 189.7,99.1 190.3,99.7 190.9,102.0 191.5,103.2 192.0,102.6 192.6,104.4 193.2,104.9 193.8,105.5 194.4,107.3 195.0,109.0 195.5,110.2 196.1,108.4 196.7,110.8 197.3,115.4 197.9,113.7 198.5,110.2 199.1,109.0 199.6,107.3 200.2,106.7 200.8,104.9 201.4,103.2 202.0,104.4 202.6,106.1 203.1,105.5 203.7,106.1 204.3,106.7 204.9,106.1 205.5,106.7 206.1,109.0 206.6,111.4 207.2,117.8 207.8,110.2 208.4,111.4 209.0,117.2 209.6,113.1 210.1,111.4 210.7,110.2 211.3,111.4 211.9,112.5 212.5,113.1 213.1,112.5 213.6,112.5 214.2,110.8 214.8,110.2 215.4,109.6 216.0,109.0 216.6,108.4 217.2,107.3 217.7,109.0 218.3,110.2 218.9,107.9 219.5,107.3 220.1,108.4 220.7,110.2 221.2,111.4 221.8,113.1 222.4,114.9 223.0,112.5 223.6,110.2 224.2,109.6 224.7,112.5 225.3,116.6 225.9,118.4 226.5,114.3 227.1,111.4 227.7,110.2 228.2,111.4 228.8,110.2 229.4,109.0 230.0,109.6 230.6,112.5 231.2,110.2 231.8,109.0 232.3,110.8 232.9,108.4 233.5,109.0 234.1,113.1 234.7,117.2 235.3,118.4 235.8,114.9 236.4,112.5 237.0,111.9 237.6,111.4 238.2,110.8 238.8,111.9 239.3,114.9 239.9,118.4 240.5,120.7 241.1,121.3 241.7,118.9 242.3,116.6 242.8,114.9 243.4,113.1 244.0,111.4 244.6,110.2 245.2,111.4 245.8,113.7 246.4,113.1 246.9,110.8 247.5,112.5 248.1,116.0 248.7,114.3 249.3,110.2 249.9,106.7 250.4,105.5 251.0,108.4 251.6,112.5 252.2,105.5 252.8,99.7 253.4,102.0 253.9,107.9 254.5,104.9 255.1,99.1 255.7,103.2 256.3,109.6 256.9,104.4 257.4,97.9 258.0,102.0 258.6,96.2 259.2,102.0 259.8,107.3 260.4,109.6 260.9,105.5 261.5,102.0 262.1,102.6 262.7,100.8 263.3,102.0 263.9,100.8 264.5,99.7 265.0,99.1 265.6,100.8 266.2,102.0 266.8,103.8 267.4,102.0 268.0,100.3 268.5,100.8 269.1,100.3 269.7,99.7 270.3,100.3 270.9,102.0 271.5,104.4 272.0,105.5 272.6,105.5 273.2,106.1 273.8,107.3 274.4,108.4 275.0,109.0 275.5,108.4 276.1,106.7 276.7,104.4 277.3,102.6 277.9,102.0 278.5,102.6 279.1,100.8 279.6,99.7 280.2,99.1 280.8,100.8 281.4,101.4 282.0,102.6 282.6,102.0 283.1,104.4 283.7,108.4 284.3,111.4 284.9,109.6 285.5,110.2 286.1,112.5 286.6,113.1 287.2,109.0 287.8,105.5 288.4,103.2 289.0,106.7 289.6,111.4 290.1,114.3 290.7,110.8 291.3,109.6 291.9,111.4 292.5,114.9 293.1,111.4 293.6,109.0 294.2,111.4 294.8,113.1 295.0,113.0 295.6,110.1 296.2,108.4 296.8,109.5 297.3,108.4 297.9,107.8 298.5,106.6 299.1,106.0 299.7,104.9 300.3,106.0 300.8,108.4 301.4,111.9 302.0,114.2 302.6,113.0 303.2,109.5" fill="none" stroke="#161c21" stroke-width="1.35" stroke-linejoin="round" stroke-linecap="round"/>
<polyline points="303.2,109.5 303.8,107.2 304.3,106.6 304.9,107.2 305.5,107.8 306.1,109.5 306.7,111.3 307.3,108.4 307.8,107.8 308.4,108.9 309.0,110.1 309.6,113.0 310.2,114.2 310.8,108.4 311.4,101.4 311.9,96.7 312.5,97.8 313.1,103.7 313.7,112.4 314.3,115.9 314.9,110.7 315.4,103.7 316.0,101.4 316.6,100.2 317.2,96.7 317.8,96.1 318.4,97.8 318.9,102.5 319.5,110.1 320.1,113.0 320.7,108.4 321.3,106.0 321.9,105.4 322.4,102.5 323.0,93.2 323.6,89.7 324.2,94.3 324.8,102.5 325.4,110.1 325.9,110.7 326.5,110.1 327.1,113.0 327.7,115.9 328.3,111.9 328.9,105.4 329.5,100.8 330.0,103.7 330.6,110.7 331.2,113.6 331.8,110.7 332.4,107.2 333.0,105.4 333.5,107.2 334.1,103.7 334.7,103.1 335.3,104.9 335.9,108.9 336.5,111.3 337.0,113.0 337.6,115.4 338.2,117.7 338.8,114.2 339.4,104.3 340.0,99.0 340.5,96.7 341.1,100.2 341.7,104.3 342.3,107.2 342.9,108.4 343.5,106.6 344.1,104.9 344.6,103.7 345.2,103.1 345.8,104.3 346.4,105.4 347.0,106.6 347.6,108.4 348.1,110.1 348.7,110.7 349.3,116.5" fill="none" stroke="#62a6d0" stroke-width="1.0" stroke-linejoin="round" stroke-linecap="round"/>
<polyline points="349.3,116.5 349.9,118.9 350.5,113.0 351.1,103.7 351.6,102.5 352.2,108.4 352.8,113.0 353.4,106.0 354.0,105.4 354.6,111.9 355.1,108.4 355.7,107.2 356.3,108.9 356.9,107.8 357.5,107.2 358.1,108.4 358.6,109.5 359.2,108.4 359.8,107.8 360.4,108.9 361.0,111.9 361.6,114.2 362.2,113.6 362.7,110.7 363.3,108.4 363.9,109.5 364.5,108.4 365.1,108.9 365.7,106.6 366.2,107.8 366.8,108.4 367.4,115.9 368.0,116.5 368.6,115.4 369.2,115.4 369.7,113.0 370.0,113.0 370.6,109.5 371.2,108.4 371.8,107.8 372.3,106.6 372.9,105.4 373.5,106.0 374.1,104.9 374.7,106.6 375.3,102.5 375.8,99.6 376.4,100.8 377.0,102.5 377.6,101.9 378.2,103.1 378.8,104.9 379.3,105.4 379.9,106.6 380.5,107.2 381.1,104.9 381.7,102.5 382.3,101.4 382.8,103.1 383.4,104.9 384.0,102.5 384.6,104.3 385.2,105.4 385.8,103.7 386.4,105.4 386.9,111.9 387.5,104.9 388.1,101.4 388.7,103.1 389.3,101.4 389.9,102.5 390.4,101.4 391.0,100.8 391.6,102.5 392.2,103.7 392.8,107.8 393.4,111.9 393.9,108.4 394.5,106.0 395.1,114.2 395.7,117.7 396.3,111.9 396.9,107.2 397.4,107.8 398.0,111.9 398.6,114.2 399.2,114.8 399.8,113.6 400.4,114.8 400.9,111.9 401.5,113.6 402.1,115.4 402.7,112.4 403.3,109.5 403.9,107.8 404.5,106.6 405.0,108.4 405.6,110.1 406.2,111.9 406.8,110.7 407.4,113.0 408.0,116.5 408.5,113.6 409.1,110.1 409.7,107.8 410.3,109.5 410.9,113.0 411.5,108.4 412.0,107.8 412.6,109.5 413.2,111.9 413.8,115.4 414.4,118.3 415.0,121.2 415.5,116.5 416.1,113.0 416.7,109.5 417.3,108.4 417.9,110.1 418.5,110.1 419.1,108.9 419.6,110.1 420.2,110.1 420.8,111.9 421.4,117.7 422.0,121.2 422.6,117.7 423.1,111.9 423.7,108.4 424.3,107.8 424.9,108.9 425.5,105.4 426.1,101.4 426.6,100.2 427.2,102.5 427.8,108.4 428.4,111.9 429.0,111.3 429.6,112.4 430.1,109.5 430.7,111.9 431.3,113.6 431.9,111.3 432.5,113.0 433.1,114.2 433.6,114.2 434.2,110.1 434.8,109.5 435.4,114.2 436.0,120.0 436.6,121.8 437.2,116.5 437.7,113.6 438.3,114.2 438.9,114.8 439.5,116.5 440.1,114.2 440.7,110.7 441.2,108.9 441.8,110.7 442.4,113.0 443.0,112.4 443.6,113.0 444.2,113.6 444.7,113.0 445.0,111.9 445.6,111.3 446.2,113.0 446.8,114.2 447.3,108.4 447.9,103.7 448.5,101.4 449.1,106.0 449.7,103.7 450.3,100.2 450.8,99.0 451.4,100.2 452.0,98.4 452.6,104.3 453.2,100.2 453.8,98.4 454.3,97.3 454.9,99.6 455.5,101.9 456.1,102.5 456.7,102.5 457.3,103.1 457.8,103.7 458.4,104.3 459.0,104.9 459.6,105.4 460.2,106.6 460.8,107.8 461.4,111.3 461.9,109.5 462.5,108.4 463.1,110.1 463.7,111.3 464.3,109.5 464.9,107.2 465.4,104.3 466.0,102.5 466.6,101.4 467.2,103.7 467.8,107.2 468.4,106.0 468.9,103.7 469.5,101.9 470.1,100.2 470.7,98.4 471.3,97.8 471.9,102.5 472.4,107.2 473.0,103.7 473.6,103.1 474.2,106.6 474.8,104.9 475.4,106.0 475.9,108.4 476.5,106.6 477.1,110.1 477.7,112.4 478.3,108.4 478.9,110.1 479.5,113.6 480.0,115.9 480.6,111.9 481.2,106.6 481.8,104.3 482.4,103.7 483.0,103.1 483.5,104.3 484.1,106.0 484.7,108.4 485.3,109.5 485.9,104.9 486.5,103.7 487.0,104.3 487.6,105.4 488.2,104.3 488.8,103.7 489.4,102.5 490.0,105.4 490.5,110.7 491.1,113.0 491.7,108.4 492.3,105.4 492.9,103.7 493.5,101.4 494.1,99.6 494.6,99.0 495.2,100.2 495.8,101.9 496.4,103.7 497.0,106.6 497.6,109.5 498.1,111.9 498.7,113.0 499.3,111.3 499.9,112.4 500.5,110.7 501.1,109.5 501.6,110.1 502.2,108.9 502.8,107.8 503.4,111.9 504.0,106.6 504.6,106.0 505.1,110.7 505.7,115.4 506.3,115.9 506.9,113.6 507.5,113.6 508.1,114.2 508.6,113.0 509.2,111.3 509.8,108.9 510.4,108.9 511.0,108.4 511.6,105.4 512.2,102.5 512.7,101.4 513.3,103.1 513.9,104.3 514.5,103.7 515.1,104.3 515.7,105.4 516.2,106.6 516.8,107.2 517.4,108.4 518.0,102.5 518.6,97.8 519.2,103.7 519.7,107.8 520.0,105.4 520.6,107.1 521.2,104.8 521.8,103.6 522.3,105.4 522.9,106.5 523.5,103.6 524.1,101.9 524.7,99.5 525.3,103.0 525.8,100.7 526.4,98.4 527.0,101.3 527.6,97.2 528.2,94.8 528.8,99.5 529.3,105.4" fill="none" stroke="#161c21" stroke-width="1.35" stroke-linejoin="round" stroke-linecap="round"/>
<polyline points="529.3,105.4 529.9,107.7 530.5,101.9 531.1,96.0 531.7,93.1 532.3,91.9 532.8,92.5 533.4,94.8 534.0,97.2 534.6,98.4 535.2,96.6 535.8,97.2 536.4,101.9 536.9,111.2 537.5,114.7 538.1,105.4 538.7,97.2 539.3,97.8 539.9,102.4 540.4,105.4 541.0,110.0 541.6,113.5 542.2,115.3 542.8,111.2 543.4,106.5 543.9,103.6 544.5,101.3 545.1,100.1 545.7,101.9 546.3,107.7 546.9,117.0 547.4,123.5 548.0,126.4 548.6,125.2 549.2,119.4 549.8,114.7 550.4,110.6 550.9,107.7 551.5,108.9 552.1,113.5 552.7,119.4 553.3,117.0 553.9,113.5 554.5,112.4 555.0,110.0 555.6,105.9 556.2,103.6 556.8,104.8 557.4,107.7 558.0,108.3 558.5,107.1 559.1,110.6 559.7,113.5 560.3,112.4 560.9,108.3 561.5,103.6 562.0,100.7 562.6,99.5 563.2,100.7 563.8,103.6 564.4,106.5 565.0,110.0 565.5,113.5 566.1,117.0 566.7,115.9 567.3,111.2 567.9,105.4 568.5,101.3 569.1,100.1 569.6,101.3 570.2,105.4 570.8,112.4 571.4,118.2 572.0,120.5 572.6,115.9 573.1,111.2 573.7,106.5 574.3,104.2 574.9,105.4 575.5,111.2 576.1,117.0 576.6,121.1 577.2,119.4 577.8,114.1 578.4,109.4 579.0,107.7 579.6,108.9 580.1,107.1 580.7,107.7 581.3,110.0 581.9,114.7 582.5,117.6 583.1,119.4 583.6,117.0 584.2,113.5 584.8,115.9 585.4,117.0 586.0,112.4 586.6,105.4 587.2,104.2 587.7,108.9" fill="none" stroke="#62a6d0" stroke-width="1.0" stroke-linejoin="round" stroke-linecap="round"/>
<polyline points="587.7,108.9 588.3,111.2 588.9,110.0 589.5,107.7 590.1,106.5 590.7,107.1 591.2,108.3 591.8,107.1 592.4,106.5 593.0,105.9 593.6,105.4 594.2,107.1 594.7,112.4 595.0,117.0 595.6,112.4 596.2,110.0 596.8,108.9 597.3,109.4 597.9,108.3 598.5,108.9 599.1,107.7 599.7,105.9 600.3,107.7 600.8,109.4 601.4,110.6 602.0,110.0 602.6,111.2 603.2,113.5 603.8,115.9 604.3,113.5 604.9,110.0 605.5,108.3 606.1,107.7 606.7,107.1 607.3,108.3 607.8,111.2 608.4,114.7 609.0,117.0 609.6,118.8 610.2,119.4 610.8,117.0 611.4,113.5 611.9,111.2 612.5,110.0 613.1,108.9 613.7,108.3 614.3,110.0 614.9,114.7 615.4,118.2 616.0,113.5 616.6,107.7 617.2,105.4 617.8,111.2 618.4,117.0 618.9,113.5 619.5,105.4 620.1,99.5 620.7,101.9 621.3,110.0 621.9,104.2 622.4,97.2 623.0,96.6 623.6,100.7 624.2,105.4 624.8,101.9 625.4,99.5 625.9,101.9 626.5,105.4 627.1,106.5 627.7,101.9 628.3,100.1 628.9,104.2 629.5,107.7 630.0,105.4 630.6,104.8 631.2,104.8 631.8,104.2 632.4,104.2 633.0,103.6 633.5,103.6 634.1,104.2 634.7,104.8 635.3,105.4 635.9,106.5 636.5,110.0 637.0,112.4 637.6,105.4 638.2,103.0 638.8,102.4 639.4,100.7 640.0,99.5 640.5,97.8 641.1,98.9 641.7,100.7 642.3,101.9 642.9,104.8 643.5,105.9 643.8,105.4" fill="none" stroke="#161c21" stroke-width="1.35" stroke-linejoin="round" stroke-linecap="round"/>
</svg>
</body></html>
